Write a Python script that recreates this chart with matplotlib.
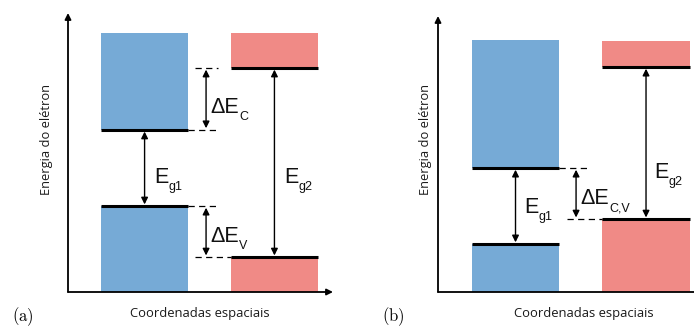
import matplotlib.pyplot as plt

plt.rcParams['font.family'] = ['Open Sans', 'DejaVu Sans']

# energy levels (arbitrary units, 0 = x axis)
# panel (a): material 1 (blue), material 2 (red)
a_top = [9.28, 9.28]
a_ec = [5.81, 8.03]
a_ev = [3.08, 1.25]
a_x = [(1.25, 4.53), (6.15, 9.43)]
# panel (b)
b_top = [9.13, 9.09]
b_ec = [4.49, 8.15]
b_ev = [1.74, 2.64]
b_x = [(1.28, 4.57), (6.19, 9.51)]

colors = ['#76aad6', '#f08a86']
ylabel = 'Energia do elétron'
xlabel = 'Coordenadas espaciais'

W, H = 694, 327
fig = plt.figure(figsize=(W / 100, H / 100), dpi=100)


def px_axes(x0, x1, y_top, y_bot):
    return fig.add_axes([x0 / W, 1 - y_bot / H, (x1 - x0) / W, (y_bot - y_top) / H])


def setup(ax):
    ax.set_xlim(0, 10)
    ax.set_ylim(0, 10)
    ax.axis('off')
    head = dict(arrowstyle='-|>', lw=1.3, mutation_scale=9, color='black',
                shrinkA=0, shrinkB=0)
    ax.annotate('', xy=(0, 10), xytext=(0, 0), arrowprops=head, annotation_clip=False)
    ax.annotate('', xy=(10, 0), xytext=(0, 0), arrowprops=head, annotation_clip=False)


def bands(ax, xr, top, ec, ev):
    for i in range(2):
        x0, x1 = xr[i]
        ax.fill_between([x0, x1], ec[i], top[i], color=colors[i], lw=0)
        ax.fill_between([x0, x1], 0, ev[i], color=colors[i], lw=0)
        ax.plot([x0, x1], [ec[i], ec[i]], color='black', lw=2.2, solid_capstyle='butt')
        ax.plot([x0, x1], [ev[i], ev[i]], color='black', lw=2.2, solid_capstyle='butt')


def darrow(ax, x, y0, y1):
    ax.annotate('', xy=(x, y1), xytext=(x, y0),
                arrowprops=dict(arrowstyle='<|-|>', lw=1.0, mutation_scale=10,
                                color='black', shrinkA=1.2, shrinkB=1.2))


def dash(ax, x0, x1, y):
    ax.plot([x0, x1], [y, y], color='black', lw=0.9, dashes=(5, 3.5))


def label(ax, x, y, main, sub):
    t = ax.text(x, y, main, fontsize=15.5, va='baseline', ha='left',
                family='Liberation Sans', color='#111111')
    ax.annotate(sub, xy=(1, 0), xycoords=t, xytext=(0.3, -1.5),
                textcoords='offset points', fontsize=9, va='baseline',
                ha='left', family='Liberation Sans', color='#111111')


# ---- panel (a)
ax = px_axes(68, 333, 13, 292)
setup(ax)
bands(ax, a_x, a_top, a_ec, a_ev)
dash(ax, 4.79, 5.66, a_ec[1])
dash(ax, a_x[0][1], 5.66, a_ec[0])
dash(ax, a_x[0][1], 5.66, a_ev[0])
dash(ax, 4.79, a_x[1][0], a_ev[1])
darrow(ax, 5.21, a_ec[0], a_ec[1])
darrow(ax, 5.21, a_ev[1], a_ev[0])
darrow(ax, sum(a_x[0]) / 2, a_ev[0], a_ec[0])
darrow(ax, sum(a_x[1]) / 2, a_ev[1], a_ec[1])
label(ax, 5.36, 6.42, '\u0394E', 'C')
label(ax, 5.36, 1.79, '\u0394E', 'V')
label(ax, 3.25, 3.91, 'E', 'g1')
label(ax, 8.15, 3.91, 'E', 'g2')

# ---- panel (b)
ax = px_axes(438, 703, 16, 292)
setup(ax)
bands(ax, b_x, b_top, b_ec, b_ev)
dash(ax, b_x[0][1], 5.74, b_ec[0])
dash(ax, 4.87, b_x[1][0], b_ev[1])
darrow(ax, 5.21, b_ev[1], b_ec[0])
darrow(ax, sum(b_x[0]) / 2, b_ev[0], b_ec[0])
darrow(ax, sum(b_x[1]) / 2, b_ev[1], b_ec[1])
label(ax, 5.36, 3.19, '\u0394E', 'C,V')
label(ax, 3.25, 2.86, 'E', 'g1')
label(ax, 8.15, 4.13, 'E', 'g2')

# axis titles and panel tags
for xl, xc, tag, xt in [(47, 200, '(a)', 12), (425, 584, '(b)', 382)]:
    fig.text(xl / W, 1 - 140 / H, ylabel, rotation=90, fontsize=9.3,
             ha='center', va='center', color='#1a1a1a')
    fig.text(xc / W, 1 - 313 / H, xlabel, fontsize=9.4, ha='center', va='center',
             color='#1a1a1a')
    fig.text(xt / W, 1 - 317 / H, r'$\mathrm{' + tag + '}$', fontsize=12,
             ha='left', va='center', math_fontfamily='cm')

fig.savefig('out.png', dpi=100)
